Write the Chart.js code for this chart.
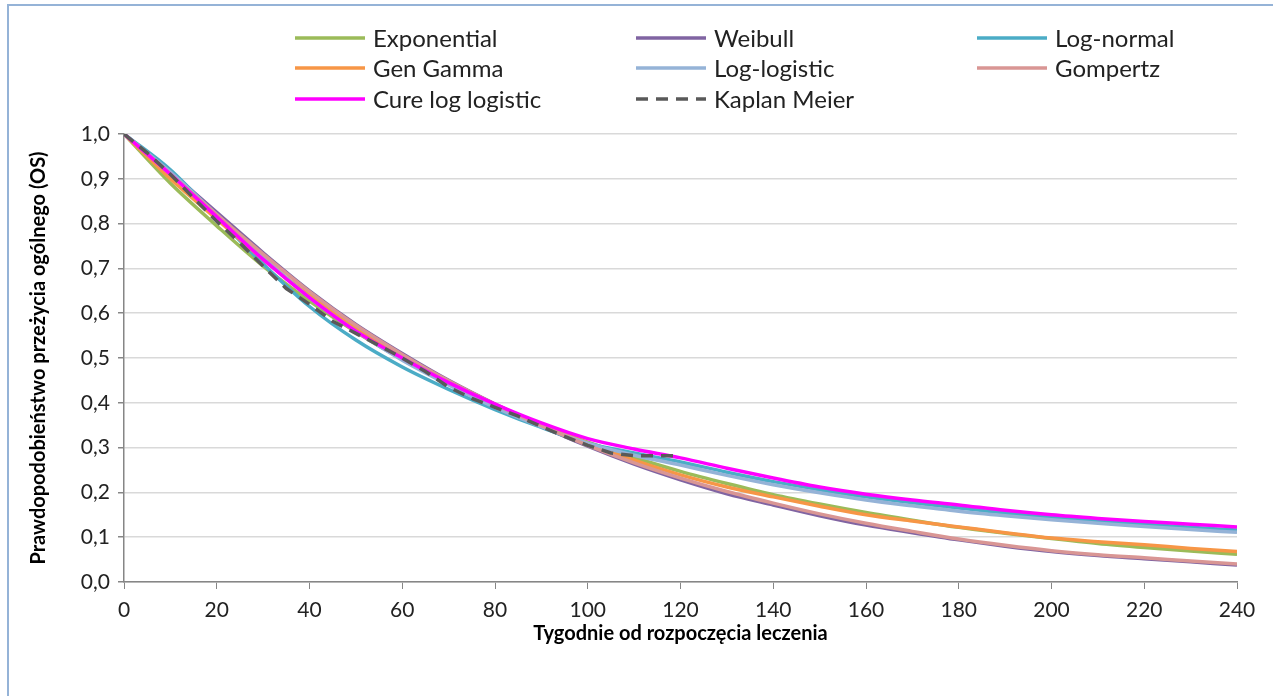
<!DOCTYPE html>
<html>
<head>
<meta charset="utf-8">
<script src="https://cdn.jsdelivr.net/npm/chart.js@4"></script>
<style>
  html, body { margin: 0; padding: 0; background: #fff; }
  #wrap { position: relative; width: 1273px; height: 696px; overflow: hidden; }
  #frame { position: absolute; left: 7px; top: 4px; width: 1300px; height: 720px; border: 2px solid #95B3D7; box-sizing: border-box; }
  canvas { position: absolute; left: 0; top: 0; }
</style>
</head>
<body>
<div id="wrap">
  <div id="frame"></div>
  <canvas id="survChart" width="1273" height="696"></canvas>
</div>
<script>
// weeks for the fitted curves
const weeks = [0, 10, 20, 30, 40, 50, 60, 70, 80, 90, 100, 110, 120, 130, 140, 150, 160, 170, 180, 190, 200, 210, 220, 230, 240];

const exponential = [1.0, 0.89, 0.795, 0.705, 0.627, 0.558, 0.497, 0.443, 0.394, 0.351, 0.312, 0.278, 0.247, 0.22, 0.195, 0.174, 0.155, 0.138, 0.122, 0.109, 0.097, 0.086, 0.077, 0.069, 0.062];
const weibull = [1.0, 0.915, 0.825, 0.735, 0.65, 0.575, 0.51, 0.45, 0.397, 0.348, 0.303, 0.263, 0.228, 0.197, 0.172, 0.148, 0.127, 0.11, 0.094, 0.08, 0.068, 0.059, 0.052, 0.045, 0.038];
const logNormal = [1.0, 0.92, 0.815, 0.71, 0.615, 0.54, 0.48, 0.43, 0.385, 0.345, 0.31, 0.288, 0.268, 0.245, 0.224, 0.206, 0.19, 0.177, 0.165, 0.154, 0.145, 0.137, 0.129, 0.122, 0.116];
const genGamma = [1.0, 0.9, 0.81, 0.72, 0.64, 0.567, 0.503, 0.447, 0.396, 0.35, 0.31, 0.272, 0.239, 0.212, 0.19, 0.169, 0.15, 0.136, 0.123, 0.11, 0.098, 0.09, 0.083, 0.075, 0.068];
const logLogistic = [1.0, 0.915, 0.82, 0.725, 0.635, 0.56, 0.495, 0.44, 0.39, 0.347, 0.31, 0.283, 0.261, 0.238, 0.217, 0.199, 0.183, 0.17, 0.158, 0.148, 0.139, 0.131, 0.124, 0.117, 0.111];
const gompertz = [1.0, 0.91, 0.82, 0.732, 0.648, 0.573, 0.508, 0.449, 0.397, 0.349, 0.305, 0.266, 0.232, 0.202, 0.176, 0.152, 0.131, 0.113, 0.096, 0.082, 0.07, 0.061, 0.054, 0.047, 0.04];
const cureLogLogistic = [1.0, 0.91, 0.815, 0.72, 0.635, 0.56, 0.5, 0.445, 0.397, 0.355, 0.32, 0.297, 0.277, 0.254, 0.232, 0.212, 0.196, 0.183, 0.172, 0.16, 0.15, 0.142, 0.135, 0.129, 0.123];

// Kaplan-Meier (observed), read every 5 weeks
const kmWeeks = [0, 5, 10, 15, 20, 25, 30, 35, 40, 45, 50, 55, 60, 65, 70, 75, 80, 85, 90, 95, 100, 105, 110, 115, 120];
const kaplanMeier = [1.0, 0.958, 0.91, 0.857, 0.805, 0.757, 0.705, 0.655, 0.62, 0.582, 0.555, 0.528, 0.5, 0.47, 0.435, 0.41, 0.39, 0.37, 0.347, 0.325, 0.305, 0.288, 0.282, 0.282, 0.282];

const seriesNames = ["Exponential", "Weibull", "Log-normal", "Gen Gamma", "Log-logistic", "Gompertz", "Cure log logistic", "Kaplan Meier"];
const seriesColors = ["#9BBB59", "#8064A2", "#4BACC6", "#F79646", "#95B3D7", "#D99694", "#FF00FF", "#595959"];

const xTitle = "Tygodnie od rozpoczęcia leczenia";
const yTitle = "Prawdopodobieństwo przeżycia ogólnego (OS)";

const FONT = "Lato, 'Liberation Sans', sans-serif";

function toPoints(xs, ys) {
  return xs.map((x, i) => ({ x: x, y: ys[i] }));
}

const curves = [exponential, weibull, logNormal, genGamma, logLogistic, gompertz, cureLogLogistic];

const datasets = curves.map((vals, i) => ({
  label: seriesNames[i],
  data: toPoints(weeks, vals),
  borderColor: seriesColors[i],
  borderWidth: 3.5,
  pointRadius: 0,
  tension: 0.4,
  cubicInterpolationMode: "monotone",
  fill: false,
  order: 20 - i
}));

datasets.push({
  label: seriesNames[7],
  data: toPoints(kmWeeks, kaplanMeier),
  borderColor: seriesColors[7],
  borderWidth: 3.5,
  borderDash: [12, 8],
  pointRadius: 0,
  tension: 0,
  fill: false,
  order: 1
});

// legend in three columns like the Excel one
const gridLegend = {
  id: "gridLegend",
  afterDraw(chart) {
    const ctx = chart.ctx;
    const colX = [295, 636, 977];
    const rowY = [38, 68, 99];
    ctx.save();
    ctx.font = "24px " + FONT;
    ctx.textBaseline = "middle";
    ctx.fillStyle = "#222";
    chart.data.datasets.forEach((ds, i) => {
      const x = colX[i % 3];
      const y = rowY[Math.floor(i / 3)];
      ctx.beginPath();
      ctx.strokeStyle = ds.borderColor;
      ctx.lineWidth = 3.5;
      ctx.setLineDash(ds.borderDash || []);
      ctx.moveTo(x, y);
      ctx.lineTo(x + 70, y);
      ctx.stroke();
      ctx.setLineDash([]);
      ctx.fillText(ds.label, x + 78, y + 1);
    });
    ctx.restore();
  }
};

new Chart(document.getElementById("survChart").getContext("2d"), {
  type: "line",
  data: { datasets },
  options: {
    responsive: false,
    animation: false,
    layout: { padding: { top: 134, right: 36, bottom: 0, left: 0 } },
    plugins: {
      legend: { display: false },
      tooltip: { enabled: false }
    },
    scales: {
      x: {
        type: "linear",
        min: 0,
        max: 240,
        ticks: { stepSize: 20, color: "#222", font: { family: FONT, size: 21 }, padding: 9, maxRotation: 0 },
        grid: { drawOnChartArea: false, drawTicks: true, tickLength: 7, tickColor: "#868686" },
        border: { color: "#868686", width: 1.5 },
        title: { display: true, text: xTitle, color: "#000", font: { family: FONT, size: 20, weight: "bold" }, padding: { bottom: 50 } },
        afterFit(scale) { scale.height = 114; }
      },
      y: {
        min: 0,
        max: 1,
        ticks: {
          stepSize: 0.1,
          color: "#222",
          font: { family: FONT, size: 21 },
          padding: 8,
          callback: v => v.toFixed(1).replace(".", ",")
        },
        grid: { color: "#D9D9D9", lineWidth: 1.5, tickLength: 6, tickColor: "#868686" },
        border: { color: "#868686", width: 1.5 },
        title: { display: true, text: yTitle, color: "#000", font: { family: FONT, size: 20, weight: "bold" }, padding: { top: 27 } },
        afterFit(scale) { scale.width = 124; }
      }
    }
  },
  plugins: [gridLegend]
});
</script>
</body>
</html>
